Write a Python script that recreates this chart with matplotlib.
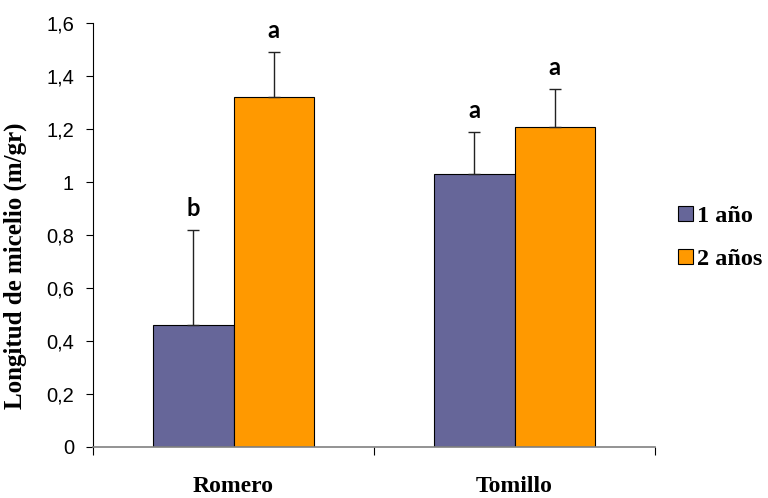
import numpy as np
import matplotlib.pyplot as plt
from matplotlib.patches import Patch

# mycelium length per plant and age
plantas = ["Romero", "Tomillo"]
series = ["1 año", "2 años"]
uno = [0.46, 1.03]
uno_err = [0.36, 0.16]
dos = [1.32, 1.21]
dos_err = [0.17, 0.14]
letras_uno = ["b", "a"]
letras_dos = ["a", "a"]
yticks = [0, 0.2, 0.4, 0.6, 0.8, 1.0, 1.2, 1.4, 1.6]
ytick_labels = ["0", "0,2", "0,4", "0,6", "0,8", "1", "1,2", "1,4", "1,6"]

colores = ["#666699", "#FF9900"]
serif = "Liberation Serif"

fig = plt.figure(figsize=(7.68, 4.98), dpi=100)
ax = fig.add_axes([93 / 768, 1 - 446.7 / 498, 562 / 768, 423.4 / 498])

x = np.arange(len(plantas))
w = 0.285

for vals, errs, letras, off, c in [(uno, uno_err, letras_uno, -w / 2, colores[0]),
                                    (dos, dos_err, letras_dos, w / 2, colores[1])]:
    ax.bar(x + off, vals, w, color=c, edgecolor="black", linewidth=0.8, zorder=2)
    ax.errorbar(x + off, vals, yerr=[np.zeros(len(errs)), errs], fmt="none",
                ecolor="#222222", elinewidth=1.0, capsize=4.3, capthick=1.0, zorder=3)
    for xi, v, e, l in zip(x + off, vals, errs, letras):
        ax.text(xi, v + e + 0.053, l, ha="center", va="baseline",
                fontsize=17, fontweight="bold", family="Lato")

ax.set_xlim(-0.5, 1.5)
ax.set_ylim(0, 1.6)

ax.set_yticks(yticks)
ax.set_yticklabels(ytick_labels, family="Liberation Sans", fontsize=14.5)
ax.tick_params(axis="y", length=5, width=0.8, pad=8.6, color="black")

# tick marks between groups, labels under the groups
ax.set_xticks([-0.5, 0.5, 1.5])
ax.set_xticklabels([])
ax.tick_params(axis="x", which="major", length=6, width=0.8, color="black")
ax.set_xticks(x, minor=True)
ax.set_xticklabels(plantas, minor=True, family=serif, fontsize=17, fontweight="bold")
ax.tick_params(axis="x", which="minor", length=0, pad=21)

for s in ["top", "right"]:
    ax.spines[s].set_visible(False)
ax.spines["bottom"].set_color("#808080")
ax.spines["bottom"].set_linewidth(1.2)
ax.spines["left"].set_linewidth(0.8)

ax.set_ylabel("Longitud de micelio (m/gr)", family=serif, fontsize=18, fontweight="bold")
ax.yaxis.set_label_coords(-0.117, 0.428)

handles = [Patch(facecolor=c, edgecolor="black", linewidth=0.8) for c in colores]
fig.legend(handles, series, loc="center left", bbox_to_anchor=(678 / 768, 1 - 238 / 498),
           frameon=False, borderpad=0, borderaxespad=0, handlelength=0.6, handleheight=0.6,
           handletextpad=0.2, labelspacing=0.9,
           prop={"family": serif, "size": 17.5, "weight": "bold"})

fig.savefig("out.png", dpi=100)
